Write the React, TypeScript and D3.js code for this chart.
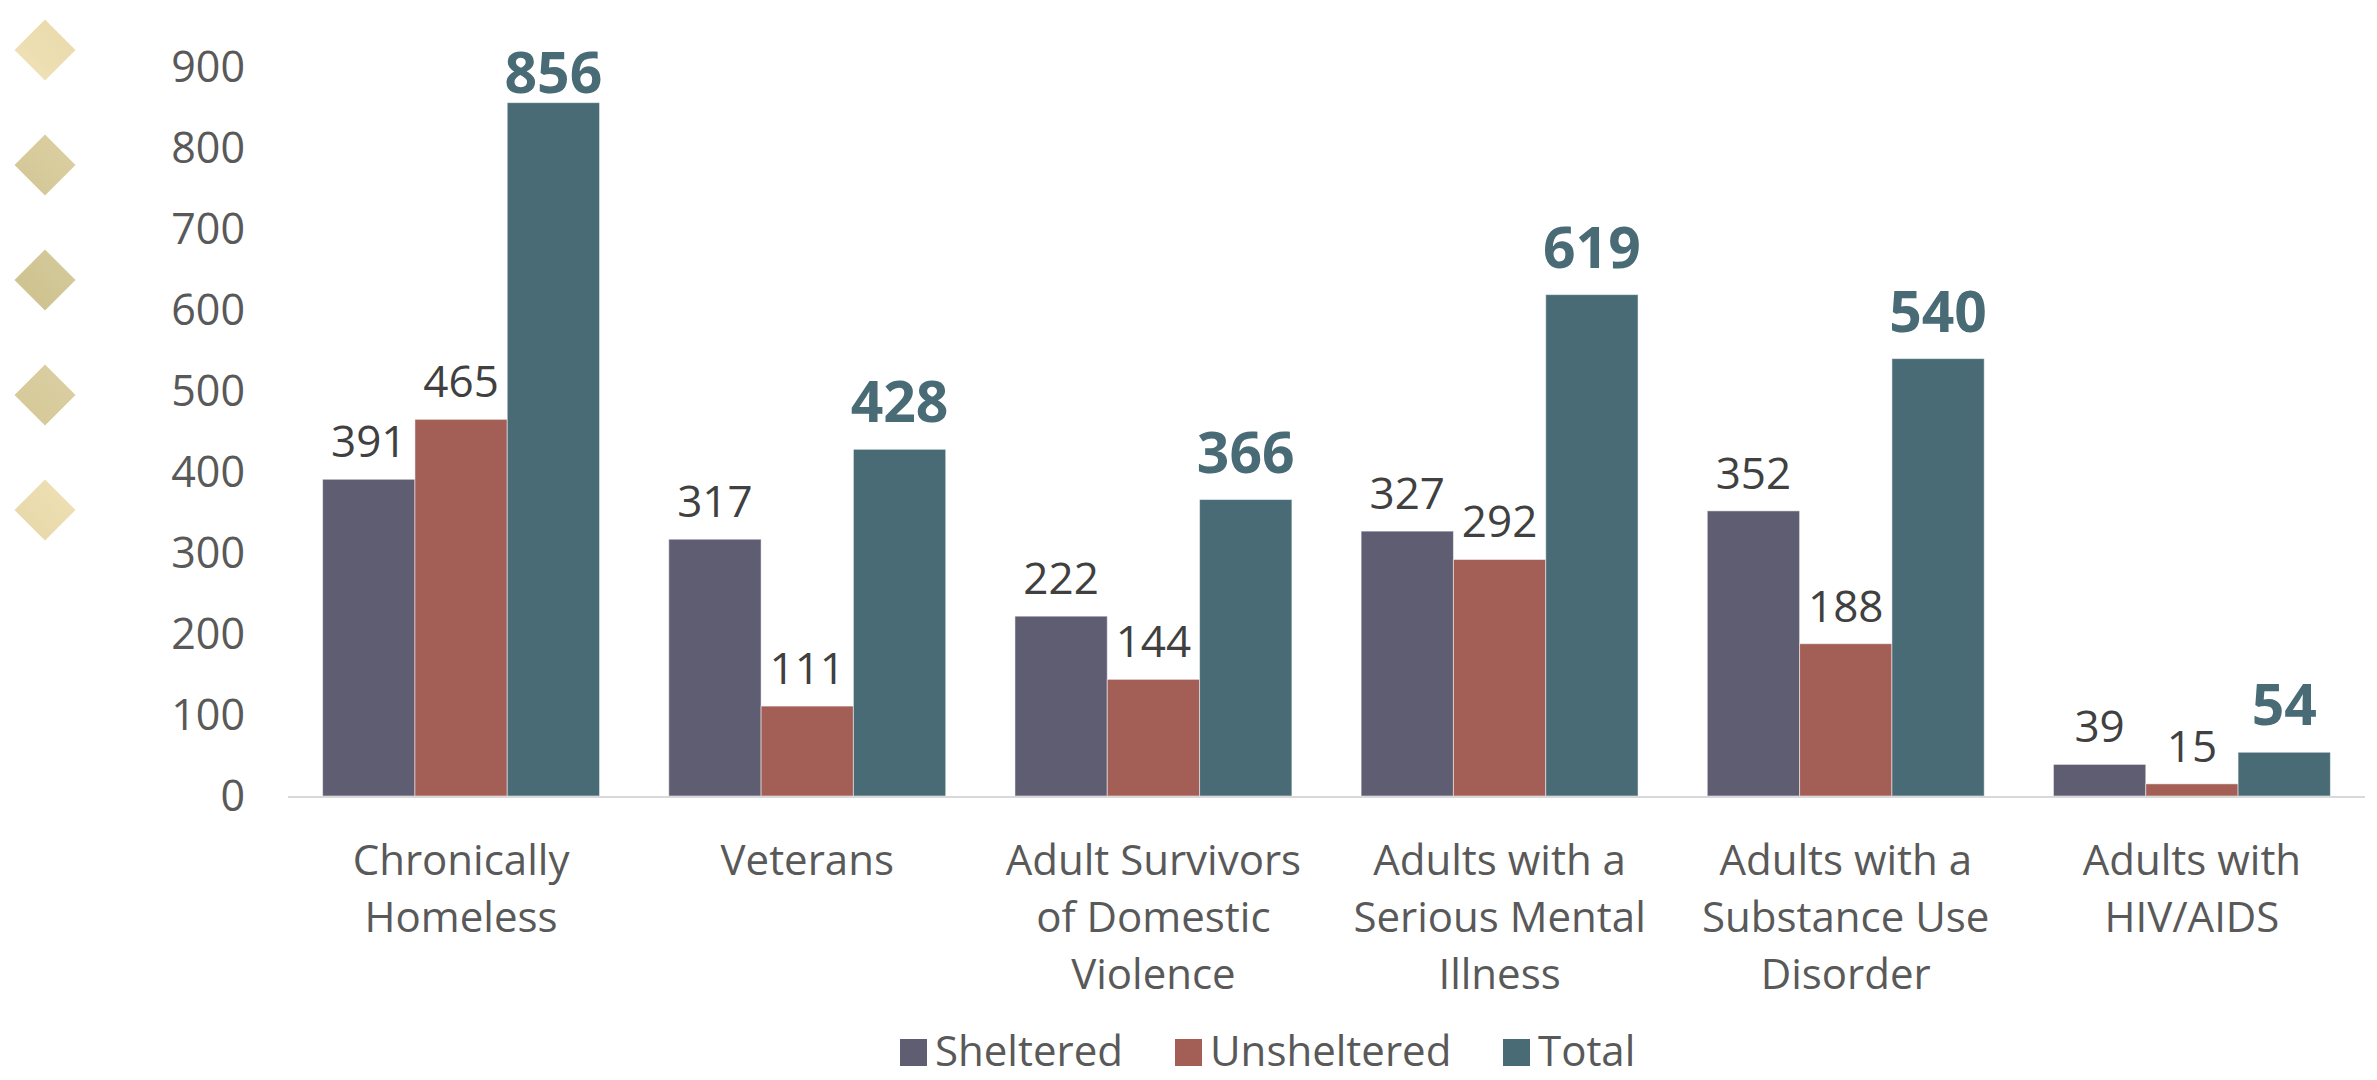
import React, { useEffect } from "react";
import * as d3 from "d3";

const categories: string[][] = [
  ["Chronically", "Homeless"],
  ["Veterans"],
  ["Adult Survivors", "of Domestic", "Violence"],
  ["Adults with a", "Serious Mental", "Illness"],
  ["Adults with a", "Substance Use", "Disorder"],
  ["Adults with", "HIV/AIDS"],
];
const seriesNames = ["Sheltered", "Unsheltered", "Total"];
const sheltered = [391, 317, 222, 327, 352, 39];
const unsheltered = [465, 111, 144, 292, 188, 15];
const total = [856, 428, 366, 619, 540, 54];
const yTicks = [0, 100, 200, 300, 400, 500, 600, 700, 800, 900];
const colors = ["#5F5D72", "#A35F56", "#496B76"];
const diamondTones = [
  ["#F0E2B8", "#E9D9AA"],
  ["#D3C695", "#DCCFA2"],
  ["#CCC08D", "#D6CB9C"],
  ["#D4C797", "#DCD0A3"],
  ["#E6D7A8", "#EFE1B5"],
];

const W = 2377;
const H = 1080;
const FONT = "'Open Sans', 'Noto Sans', sans-serif";

export default function App() {
  useEffect(() => {
    document.body.style.margin = "0";
  }, []);

  const series = [sheltered, unsheltered, total];
  const x0 = d3
    .scaleBand<number>()
    .domain(d3.range(categories.length))
    .range([288, 2365])
    .paddingInner(0.2)
    .paddingOuter(0.1);
  const x1 = d3
    .scaleBand<number>()
    .domain(d3.range(seriesNames.length))
    .range([0, x0.bandwidth()])
    .padding(0);
  const y = d3.scaleLinear().domain([0, 900]).range([796, 67]);

  const groupCenter = (i: number) => {
    const step = x0.step();
    return (x0(i) as number) - (step * 0.2) / 2 + step / 2;
  };

  const diamondY = d3.scaleLinear().domain([0, 4]).range([50, 510]);

  const legendX = [900, 1175, 1503];

  return (
    <svg
      width={W}
      height={H}
      style={{ position: "absolute", left: 0, top: 0, background: "#fff" }}
      fontFamily={FONT}
    >
      <defs>
        {diamondTones.map((t, i) => (
          <linearGradient key={i} id={`dg${i}`} x1="0" y1="1" x2="1" y2="0">
            <stop offset="0%" stopColor={t[0]} />
            <stop offset="100%" stopColor={t[1]} />
          </linearGradient>
        ))}
      </defs>

      {/* decorative diamonds */}
      {diamondTones.map((_, i) => {
        const cx = 45;
        const cy = diamondY(i);
        const r = 30.5;
        return (
          <path
            key={i}
            d={`M${cx},${cy - r}L${cx + r},${cy}L${cx},${cy + r}L${cx - r},${cy}Z`}
            fill={`url(#dg${i})`}
          />
        );
      })}

      {/* y tick labels */}
      {yTicks.map((t) => (
        <text
          key={t}
          x={245}
          y={y(t)}
          dy="0.36em"
          textAnchor="end"
          fontSize={43}
          fill="#595959"
        >
          {t}
        </text>
      ))}

      {/* bars */}
      {categories.map((_, ci) =>
        series.map((s, si) => {
          const bx = (x0(ci) as number) + (x1(si) as number);
          const by = y(s[ci]);
          return (
            <rect
              key={`${ci}-${si}`}
              x={bx}
              y={by}
              width={x1.bandwidth()}
              height={y(0) - by}
              fill={colors[si]}
              stroke="#ffffff"
              strokeOpacity={0.5}
              strokeWidth={1}
            />
          );
        })
      )}

      {/* axis baseline */}
      <line x1={288} x2={2365} y1={y(0) + 1} y2={y(0) + 1} stroke="#D9D9D9" strokeWidth={2} />

      {/* data labels */}
      {categories.map((_, ci) =>
        series.map((s, si) => {
          const cx = (x0(ci) as number) + (x1(si) as number) + x1.bandwidth() / 2;
          const isTotal = si === 2;
          const top = y(s[ci]);
          const baseline = isTotal ? Math.max(top - 27, 93) : top - 22;
          return (
            <text
              key={`l${ci}-${si}`}
              x={cx}
              y={baseline}
              textAnchor="middle"
              fontSize={isTotal ? 57 : 44}
              fontWeight={isTotal ? 700 : 400}
              fill={isTotal ? "#496B76" : "#404040"}
            >
              {s[ci]}
            </text>
          );
        })
      )}

      {/* category labels */}
      {categories.map((lines, ci) => (
        <text
          key={`c${ci}`}
          x={groupCenter(ci)}
          y={875}
          textAnchor="middle"
          fontSize={42}
          fill="#595959"
        >
          {lines.map((ln, li) => (
            <tspan key={li} x={groupCenter(ci)} dy={li === 0 ? 0 : 57}>
              {ln}
            </tspan>
          ))}
        </text>
      ))}

      {/* legend */}
      {seriesNames.map((name, i) => (
        <g key={name} transform={`translate(${legendX[i]},0)`}>
          <rect x={0} y={1039} width={27} height={27} fill={colors[i]} />
          <text x={35} y={1066} fontSize={42} fill="#595959">
            {name}
          </text>
        </g>
      ))}
    </svg>
  );
}
